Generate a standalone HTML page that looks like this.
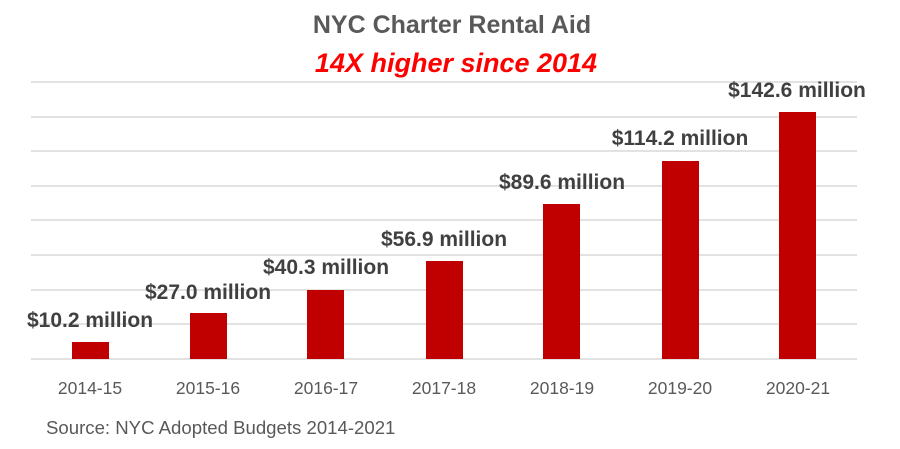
<!DOCTYPE html>
<html><head><meta charset="utf-8"><style>
body{margin:0;background:#fff;}
svg text{font-family:"Liberation Sans",sans-serif;}
</style></head><body>
<svg width="900" height="444" viewBox="0 0 900 444" xmlns="http://www.w3.org/2000/svg">
<rect width="900" height="444" fill="#fff"/>
<text x="452" y="33" text-anchor="middle" font-size="25" font-weight="bold" fill="#595959">NYC Charter Rental Aid</text>
<text x="456" y="72" text-anchor="middle" font-size="27" font-weight="bold" font-style="italic" fill="#ff0000">14X higher since 2014</text>
<g stroke="#d9d9d9" stroke-width="1.5">
<line x1="31" x2="857" y1="82" y2="82"/>
<line x1="31" x2="857" y1="117" y2="117"/>
<line x1="31" x2="857" y1="151" y2="151"/>
<line x1="31" x2="857" y1="186" y2="186"/>
<line x1="31" x2="857" y1="220" y2="220"/>
<line x1="31" x2="857" y1="255" y2="255"/>
<line x1="31" x2="857" y1="290" y2="290"/>
<line x1="31" x2="857" y1="324" y2="324"/>
<line x1="31" x2="857" y1="359" y2="359"/>
</g>
<g fill="#c00000">
<rect x="72" y="342" width="37" height="17"/>
<rect x="190" y="313" width="37" height="46"/>
<rect x="307" y="290" width="37" height="69"/>
<rect x="426" y="261" width="37" height="98"/>
<rect x="543" y="204" width="37" height="155"/>
<rect x="662" y="161" width="37" height="198"/>
<rect x="779" y="112" width="37" height="247"/>
</g>
<g font-size="21" font-weight="bold" fill="#404040" text-anchor="middle">
<text x="90" y="327">$10.2 million</text>
<text x="208" y="299">$27.0 million</text>
<text x="326" y="274">$40.3 million</text>
<text x="444" y="246">$56.9 million</text>
<text x="562" y="189">$89.6 million</text>
<text x="680" y="145">$114.2 million</text>
<text x="797" y="97">$142.6 million</text>
</g>
<g font-size="17.5" fill="#595959" text-anchor="middle">
<text x="90" y="394">2014-15</text>
<text x="208" y="394">2015-16</text>
<text x="326" y="394">2016-17</text>
<text x="444" y="394">2017-18</text>
<text x="562" y="394">2018-19</text>
<text x="680" y="394">2019-20</text>
<text x="798" y="394">2020-21</text>
</g>
<text x="46" y="434" font-size="18.6" fill="#595959">Source: NYC Adopted Budgets 2014-2021</text>
</svg>
</body></html>
